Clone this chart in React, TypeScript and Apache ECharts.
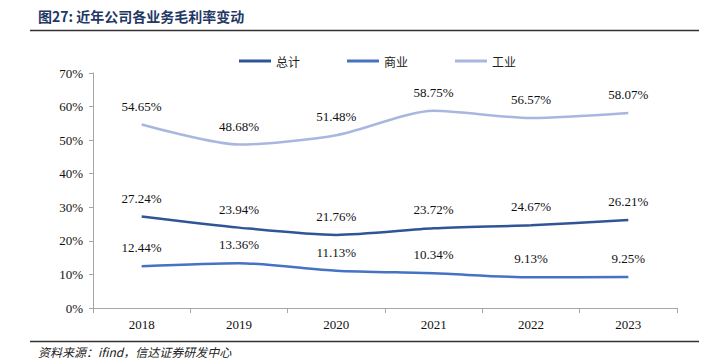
import React, { useEffect, useRef } from "react";
import * as echarts from "echarts";

const categories = ["2018", "2019", "2020", "2021", "2022", "2023"];
const totalValues = [27.24, 23.94, 21.76, 23.72, 24.67, 26.21];
const commerceValues = [12.44, 13.36, 11.13, 10.34, 9.13, 9.25];
const industryValues = [54.65, 48.68, 51.48, 58.75, 56.57, 58.07];
const seriesNames = ["总计", "商业", "工业"];
const titleText = "图27: 近年公司各业务毛利率变动";
const sourceText = "资料来源：ifind，信达证券研发中心";

export default function App() {
  const ref = useRef<HTMLDivElement>(null);
  useEffect(() => {
    if (!ref.current) return;
    const chart = echarts.init(ref.current, null, { renderer: "svg" });
    const serif = "Liberation Serif";
    const colors = ["#2f5597", "#4472c4", "#a9b7e0"];
    const mk = (name: string, data: number[], color: string) => ({
      name,
      type: "line",
      smooth: 0.25,
      symbol: "circle",
      symbolSize: 0,
      showSymbol: true,
      data,
      lineStyle: { color, width: 2.5 },
      itemStyle: { color },
      label: {
        show: true,
        position: "top",
        distance: 12,
        formatter: (p: any) => Number(p.value).toFixed(2) + "%",
        fontFamily: serif,
        fontSize: 13,
        color: "#111",
      },
    });
    chart.setOption({
      animation: false,
      textStyle: { fontFamily: serif },
      grid: { left: 93, right: 35, top: 73, bottom: 56 },
      legend: {
        top: 50,
        left: 234,
        itemWidth: 32,
        itemHeight: 3,
        icon: "rect",
        itemGap: 47,
        textStyle: { fontFamily: "Noto Sans CJK SC", fontSize: 12, color: "#222" },
        data: seriesNames,
      },
      xAxis: {
        type: "category",
        data: categories,
        boundaryGap: true,
        axisLine: { lineStyle: { color: "#a6a6a6" } },
        axisTick: { show: true, length: 5, lineStyle: { color: "#a6a6a6" } },
        axisLabel: { fontFamily: serif, fontSize: 13, color: "#111", margin: 10 },
      },
      yAxis: {
        type: "value",
        min: 0,
        max: 70,
        interval: 10,
        axisLine: { show: true, lineStyle: { color: "#a6a6a6" } },
        axisTick: { show: true, length: 4, lineStyle: { color: "#a6a6a6" } },
        splitLine: { show: false },
        axisLabel: { formatter: "{value}%", fontFamily: serif, fontSize: 13, color: "#111", margin: 10 },
      },
      graphic: [
        {
          type: "text",
          left: 38,
          top: 9,
          style: { text: titleText, fontFamily: "Noto Sans CJK SC", fontWeight: "bold", fontSize: 14, fill: "#1f3864" },
        },
        { type: "line", shape: { x1: 30, y1: 30.5, x2: 699, y2: 30.5 }, style: { stroke: "#333", lineWidth: 1.5 } },
        { type: "line", shape: { x1: 30, y1: 341.5, x2: 699, y2: 341.5 }, style: { stroke: "#333", lineWidth: 1.5 } },
        {
          type: "text",
          left: 38,
          top: 345,
          style: { text: sourceText, fontFamily: "Noto Sans CJK SC", fontStyle: "italic", fontSize: 12, fill: "#222" },
        },
      ],
      series: [
        mk(seriesNames[0], totalValues, colors[0]),
        mk(seriesNames[1], commerceValues, colors[1]),
        mk(seriesNames[2], industryValues, colors[2]),
      ],
    });
    return () => chart.dispose();
  }, []);
  return <div ref={ref} style={{ width: 712, height: 364, position: "absolute", left: 0, top: 0 }} />;
}
